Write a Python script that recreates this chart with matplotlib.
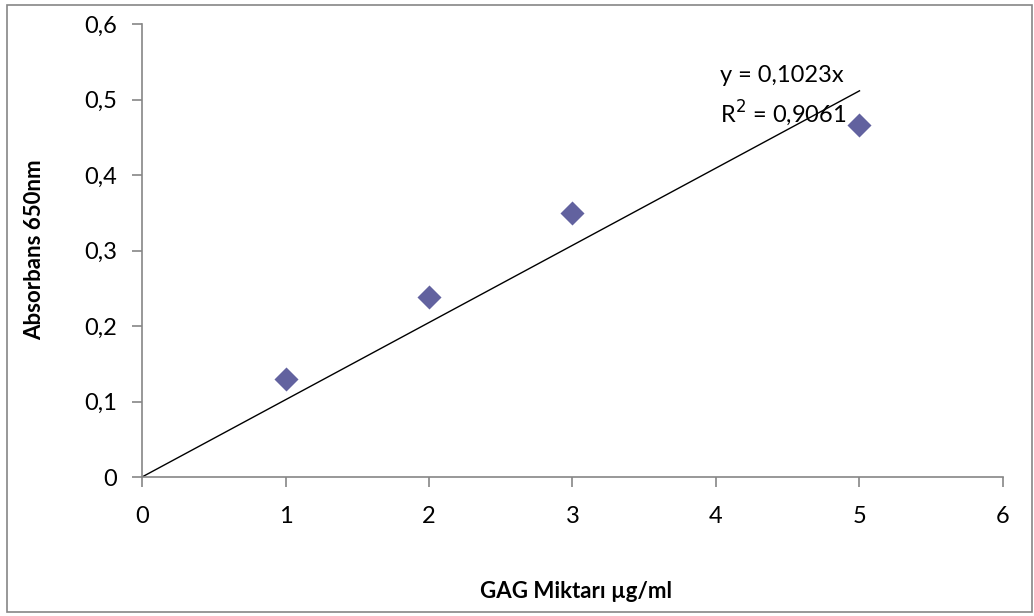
import matplotlib.pyplot as plt
import numpy as np
from matplotlib.patches import Rectangle

plt.rcParams['font.family'] = ['Lato', 'DejaVu Sans']

# measured data
gag = [1, 2, 3, 5]
absorbans = [0.13, 0.238, 0.35, 0.466]
slope = 0.1023
r2 = 0.9061
x_ticks = [0, 1, 2, 3, 4, 5, 6]
y_ticks = [0, 0.1, 0.2, 0.3, 0.4, 0.5, 0.6]

fig = plt.figure(figsize=(10.34, 6.16), dpi=100)
ax = fig.add_axes([142/1034, 1 - 477/616, (1003 - 142)/1034, (477 - 24)/616])

# outer chart border
fig.patches.append(Rectangle((7/1034, 4/616), 1025/1034, 607/616, transform=fig.transFigure,
                             fill=False, edgecolor='#868686', linewidth=1.2))

# trendline through origin
xt = np.array([0, max(gag)])
ax.plot(xt, slope * xt, color='black', linewidth=1)
ax.scatter(gag, absorbans, marker='D', s=150, color='#62629f', zorder=3, linewidths=0)

ax.text(4.03, 0.532, 'y = 0,1023x', fontsize=17, va='center', ha='left')
ax.text(4.03, 0.482, 'R$^2$ = ' + str(r2).replace('.', ','), fontsize=17, va='center', ha='left')

ax.set_xlim(0, 6)
ax.set_ylim(0, 0.6)
ax.set_xticks(x_ticks)
ax.set_yticks(y_ticks)
ax.set_xticklabels([str(v) for v in x_ticks])
ax.set_yticklabels([('%g' % v).replace('.', ',') for v in y_ticks])
ax.tick_params(labelsize=17, color='#868686', length=7, width=1.2, direction='out')
ax.tick_params(axis='x', pad=14)
ax.tick_params(axis='y', pad=11)

for s in ['top', 'right']:
    ax.spines[s].set_visible(False)
for s in ['left', 'bottom']:
    ax.spines[s].set_color('#868686')
    ax.spines[s].set_linewidth(1.2)

fig.text(576/1034, 1 - 592/616, 'GAG Miktarı µg/ml', fontsize=16, fontweight='bold',
         ha='center', va='center')
fig.text(35/1034, 1 - 250/616, 'Absorbans 650nm', fontsize=16, fontweight='bold',
         ha='center', va='center', rotation=90)

fig.savefig('out.png', dpi=100)
